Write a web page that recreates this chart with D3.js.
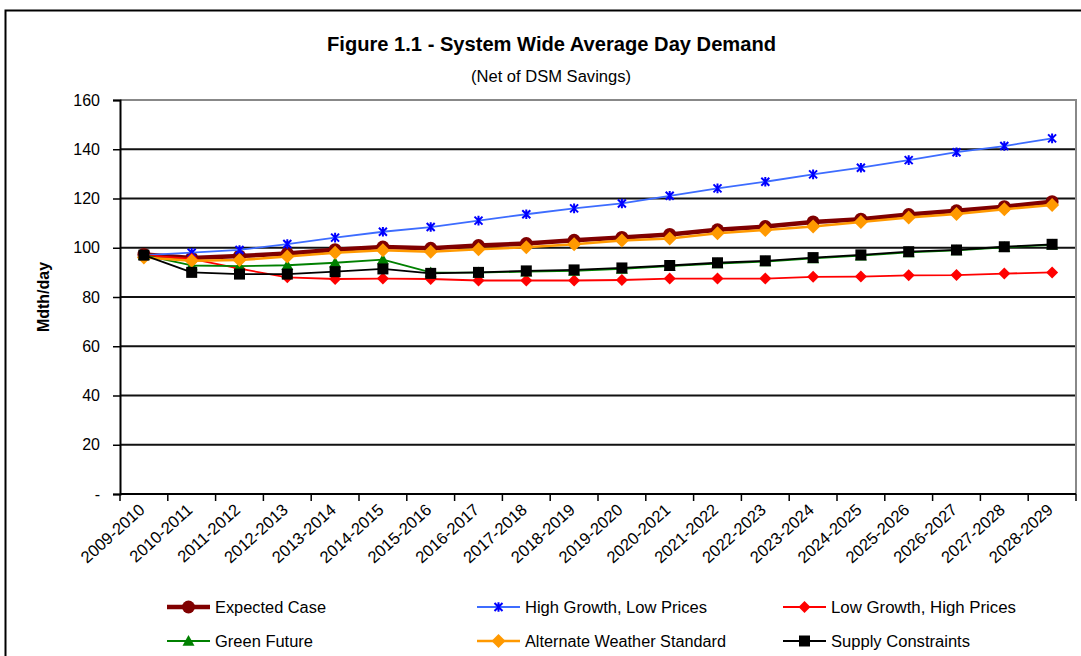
<!DOCTYPE html>
<html lang="en">
<head>
    <meta charset="UTF-8">
    <title>Figure 1.1 - System Wide Average Day Demand</title>
    <script src="https://d3js.org/d3.v7.min.js"></script>
    <style>
        body {
            margin: 0;
            background: #fff;
            font-family: "Liberation Sans", Arial, sans-serif;
        }
        svg {
            display: block;
        }
    </style>
</head>
<body>
    <div id="container"></div>

    <script>
        // chart data
        const categories = ['2009-2010','2010-2011','2011-2012','2012-2013','2013-2014','2014-2015',
            '2015-2016','2016-2017','2017-2018','2018-2019','2019-2020','2020-2021','2021-2022',
            '2022-2023','2023-2024','2024-2025','2025-2026','2026-2027','2027-2028','2028-2029'];

        const expectedCase = [97.3, 95.8, 96.6, 97.7, 99.2, 100.3, 99.8, 100.9, 101.7, 103.0,
            104.2, 105.4, 107.3, 108.6, 110.5, 111.6, 113.5, 115.0, 116.7, 118.7];
        const highGrowth = [97.0, 98.0, 99.1, 101.5, 104.1, 106.5, 108.4, 111.0, 113.6, 116.0,
            118.0, 121.1, 124.1, 126.8, 129.8, 132.5, 135.6, 138.8, 141.3, 144.4];
        const lowGrowth = [97.0, 95.5, 91.5, 88.0, 87.3, 87.5, 87.3, 86.7, 86.7, 86.7,
            86.9, 87.5, 87.5, 87.5, 88.2, 88.3, 88.8, 88.9, 89.5, 90.0];
        const greenFuture = [97.0, 92.8, 92.5, 92.9, 93.9, 95.2, 90.0, 89.9, 90.3, 90.6,
            91.4, 92.5, 93.6, 94.4, 95.7, 96.8, 98.1, 98.9, 100.2, 101.2];
        const altWeather = [96.0, 94.7, 95.0, 96.4, 98.0, 99.0, 98.4, 99.4, 100.2, 101.4,
            102.9, 103.8, 105.9, 107.2, 108.6, 110.5, 112.3, 113.7, 115.6, 117.4];
        const supplyConstraints = [97.0, 90.0, 89.3, 89.3, 90.3, 91.4, 89.6, 90.0, 90.6, 91.0,
            91.8, 92.8, 93.9, 94.7, 96.0, 97.1, 98.4, 99.1, 100.4, 101.4];

        const yTicks = [0, 20, 40, 60, 80, 100, 120, 140, 160];

        const seriesNames = ['Expected Case','High Growth, Low Prices','Low Growth, High Prices',
            'Green Future','Alternate Weather Standard','Supply Constraints'];

        const width = 1081;
        const height = 656;

        // plot area
        const plotLeft = 120, plotRight = 1076, plotTop = 100, plotBottom = 494;

        const svg = d3.select('#container').append('svg')
            .attr('width', width)
            .attr('height', height);

        // outer chart frame (only left and top edges show)
        svg.append('rect')
            .attr('x', 5.5).attr('y', 10.5)
            .attr('width', width + 20).attr('height', height + 20)
            .attr('fill', '#fff')
            .attr('stroke', '#000')
            .attr('stroke-width', 2);

        const x = d3.scaleBand()
            .domain(categories)
            .range([plotLeft, plotRight]);

        const y = d3.scaleLinear()
            .domain([0, 160])
            .range([plotBottom, plotTop]);

        // titles
        svg.append('text')
            .attr('x', 551.5)
            .attr('y', 51)
            .attr('text-anchor', 'middle')
            .attr('font-size', 19.5)
            .attr('font-weight', 'bold')
            .attr('textLength', 449)
            .attr('lengthAdjust', 'spacingAndGlyphs')
            .text('Figure 1.1 - System Wide Average Day Demand');

        svg.append('text')
            .attr('x', 551)
            .attr('y', 82)
            .attr('text-anchor', 'middle')
            .attr('font-size', 16)
            .attr('textLength', 160)
            .attr('lengthAdjust', 'spacingAndGlyphs')
            .text('(Net of DSM Savings)');

        // gridlines
        svg.append('g')
            .selectAll('line')
            .data(yTicks.filter(d => d > 0 && d < 160))
            .enter()
            .append('line')
            .attr('x1', plotLeft).attr('x2', plotRight)
            .attr('y1', d => y(d)).attr('y2', d => y(d))
            .attr('stroke', '#111')
            .attr('stroke-width', 1.8);

        // plot area border (gray)
        svg.append('path')
            .attr('d', `M${plotLeft},${plotTop}H${plotRight}V${plotBottom}`)
            .attr('fill', 'none')
            .attr('stroke', '#888')
            .attr('stroke-width', 2);

        // y axis
        const yAxis = svg.append('g')
            .attr('transform', `translate(${plotLeft},0)`)
            .call(d3.axisLeft(y)
                .tickValues(yTicks)
                .tickSize(7)
                .tickPadding(13)
                .tickFormat(d => d === 0 ? '-' : d));
        yAxis.select('.domain').attr('stroke', '#000').attr('stroke-width', 2);
        yAxis.selectAll('.tick line').attr('stroke', '#000').attr('stroke-width', 1.5);
        yAxis.selectAll('.tick text')
            .attr('font-size', 16)
            .attr('font-family', '"Liberation Sans", Arial, sans-serif')
            .attr('fill', '#000');

        // x axis line + ticks at category boundaries
        svg.append('line')
            .attr('x1', plotLeft).attr('x2', plotRight)
            .attr('y1', plotBottom).attr('y2', plotBottom)
            .attr('stroke', '#000')
            .attr('stroke-width', 2);

        const bounds = categories.map(c => x(c)).concat([plotRight]);
        svg.append('g')
            .selectAll('line')
            .data(bounds)
            .enter()
            .append('line')
            .attr('x1', d => d).attr('x2', d => d)
            .attr('y1', plotBottom).attr('y2', plotBottom + 7)
            .attr('stroke', '#000')
            .attr('stroke-width', 1.5);

        svg.append('g')
            .selectAll('text')
            .data(categories)
            .enter()
            .append('text')
            .attr('transform', d => `translate(${x(d) + x.bandwidth() / 2 - 2},${plotBottom + 13}) rotate(-42)`)
            .attr('text-anchor', 'end')
            .attr('dy', '0.35em')
            .attr('font-size', 16.5)
            .text(d => d);

        // axis title
        svg.append('text')
            .attr('transform', 'translate(49,297) rotate(-90)')
            .attr('text-anchor', 'middle')
            .attr('font-size', 16)
            .attr('font-weight', 'bold')
            .text('Mdth/day');

        // marker shapes
        function markerPath(type, s) {
            if (type === 'circle') return d3.symbol(d3.symbolCircle, Math.PI * s * s)();
            if (type === 'diamond') return `M0,${-s}L${s},0L0,${s}L${-s},0Z`;
            if (type === 'triangle') return `M0,${-s}L${s},${s * 0.8}L${-s},${s * 0.8}Z`;
            if (type === 'square') return `M${-s},${-s}H${s}V${s}H${-s}Z`;
            if (type === 'star') return `M${-s},${-s}L${s},${s}M${-s},${s}L${s},${-s}M0,${-s * 1.2}V${s * 1.2}`;
        }

        const series = [
            { name: seriesNames[0], values: expectedCase, line: '#800000', width: 4.5, marker: 'circle', mcolor: '#800000', size: 6.5 },
            { name: seriesNames[1], values: highGrowth, line: '#3d6cff', width: 1.8, marker: 'star', mcolor: '#0000ff', size: 4 },
            { name: seriesNames[2], values: lowGrowth, line: '#ff0000', width: 1.8, marker: 'diamond', mcolor: '#ff0000', size: 6 },
            { name: seriesNames[3], values: greenFuture, line: '#008000', width: 1.8, marker: 'triangle', mcolor: '#008000', size: 6 },
            { name: seriesNames[4], values: altWeather, line: '#ff9900', width: 2.5, marker: 'diamond', mcolor: '#ff9900', size: 7 },
            { name: seriesNames[5], values: supplyConstraints, line: '#000000', width: 1.8, marker: 'square', mcolor: '#000000', size: 5.5 }
        ];

        const line = d3.line()
            .x((d, i) => x(categories[i]) + x.bandwidth() / 2)
            .y(d => y(d));

        function drawMarker(sel, s) {
            sel.attr('d', markerPath(s.marker, s.size));
            if (s.marker === 'star') {
                sel.attr('fill', 'none').attr('stroke', s.mcolor).attr('stroke-width', 2);
            } else {
                sel.attr('fill', s.mcolor).attr('stroke', 'none');
            }
        }

        series.forEach(s => {
            const g = svg.append('g');
            g.append('path')
                .datum(s.values)
                .attr('d', line)
                .attr('fill', 'none')
                .attr('stroke', s.line)
                .attr('stroke-width', s.width)
                .attr('stroke-linejoin', 'round');

            g.selectAll('path.m')
                .data(s.values)
                .enter()
                .append('path')
                .attr('class', 'm')
                .attr('transform', (d, i) => `translate(${x(categories[i]) + x.bandwidth() / 2},${y(d)})`)
                .call(sel => drawMarker(sel, s));
        });

        // legend
        const legendX = [167, 477, 783];
        const legendY = [607, 641];
        const legendWidths = [111, 182, 185, 98, 201, 139];

        series.forEach((s, i) => {
            const lx = legendX[i % 3];
            const ly = legendY[Math.floor(i / 3)];
            const g = svg.append('g').attr('transform', `translate(${lx},${ly})`);
            g.append('line')
                .attr('x1', 0).attr('x2', 43)
                .attr('y1', 0).attr('y2', 0)
                .attr('stroke', s.line)
                .attr('stroke-width', s.width);
            g.append('path')
                .attr('transform', 'translate(21.5,0)')
                .call(sel => drawMarker(sel, s));
            g.append('text')
                .attr('x', 48)
                .attr('y', 0)
                .attr('dy', '0.35em')
                .attr('font-size', 16)
                .attr('textLength', legendWidths[i])
                .attr('lengthAdjust', 'spacingAndGlyphs')
                .text(s.name);
        });
    </script>
</body>
</html>
